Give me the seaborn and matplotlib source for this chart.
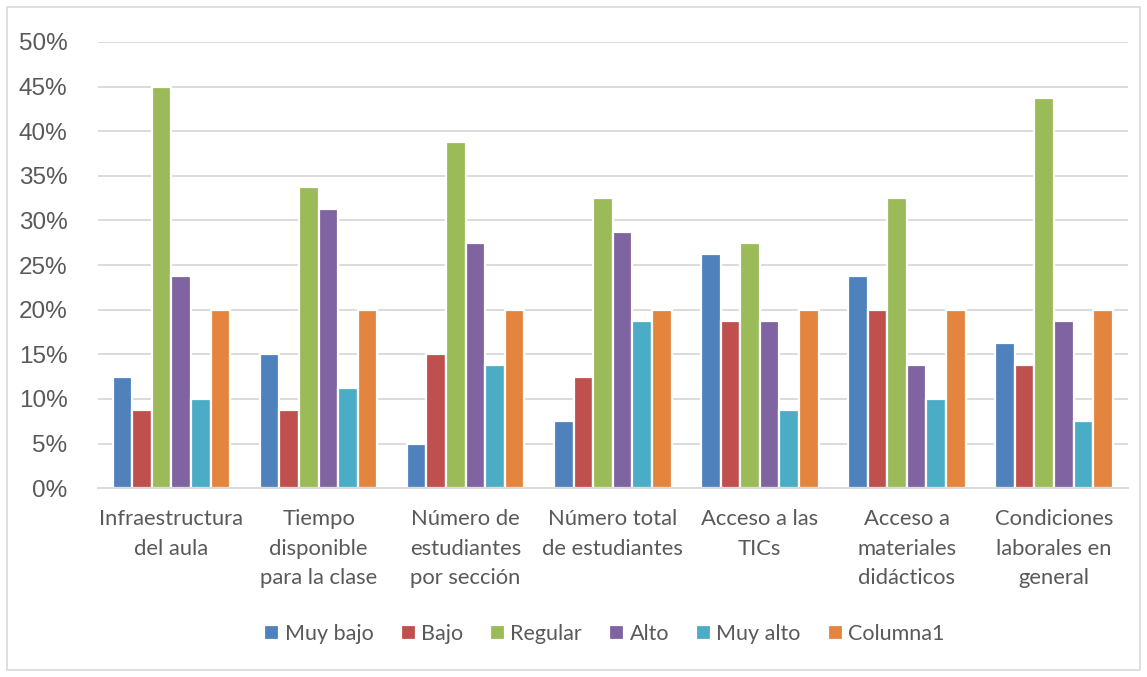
import matplotlib.pyplot as plt
import matplotlib.patches as mpatches
import seaborn as sns
import pandas as pd

# categorias (eje x) y series
categorias = ["Infraestructura\ndel aula", "Tiempo\ndisponible\npara la clase",
              "Número de\nestudiantes\npor sección", "Número total\nde estudiantes",
              "Acceso a las\nTICs", "Acceso a\nmateriales\ndidácticos",
              "Condiciones\nlaborales en\ngeneral"]
series = ["Muy bajo", "Bajo", "Regular", "Alto", "Muy alto", "Columna1"]

muy_bajo = [12.5, 15.0, 5.0, 7.5, 26.25, 23.75, 16.25]
bajo = [8.75, 8.75, 15.0, 12.5, 18.75, 20.0, 13.75]
regular = [45.0, 33.75, 38.75, 32.5, 27.5, 32.5, 43.75]
alto = [23.75, 31.25, 27.5, 28.75, 18.75, 13.75, 18.75]
muy_alto = [10.0, 11.25, 13.75, 18.75, 8.75, 10.0, 7.5]
columna1 = [20.0, 20.0, 20.0, 20.0, 20.0, 20.0, 20.0]

colores = ["#4F81BD", "#C0504D", "#9BBB59", "#8064A2", "#4BACC6", "#E3853E"]

valores = [muy_bajo, bajo, regular, alto, muy_alto, columna1]
filas = []
for s, vals in zip(series, valores):
    for c, v in zip(categorias, vals):
        filas.append({"categoria": c, "serie": s, "valor": v})
df = pd.DataFrame(filas)

sns.set_style("white")
plt.rcParams['font.family'] = ['Lato', 'DejaVu Sans']

fig = plt.figure(figsize=(11.47, 6.77), dpi=100)
ax = fig.add_axes([0.0854, 0.279, 0.8976, 0.659])

sns.barplot(data=df, x="categoria", y="valor", hue="serie", order=categorias,
            hue_order=series, palette=colores, width=0.8, edgecolor="white",
            linewidth=1.6, saturation=1, ax=ax, legend=True)

ax.set_ylim(0, 50)
ax.set_yticks(range(0, 51, 5))
ax.set_yticklabels([f"{v}%" for v in range(0, 51, 5)], fontsize=17.5,
                   color="#595959", family=['Liberation Sans'])
ax.set_xlim(-0.5, len(categorias) - 0.5)
ax.set_xlabel("")
ax.set_ylabel("")
ax.tick_params(axis="x", labelsize=15.8, labelcolor="#595959", pad=15, length=0)
ax.tick_params(axis="y", pad=22, length=0)
for lab in ax.get_xticklabels():
    lab.set_linespacing(1.6)
ax.yaxis.grid(True, color="#D9D9D9", linewidth=1.3)
ax.set_axisbelow(True)
for side in ["left", "right", "top"]:
    ax.spines[side].set_visible(False)
ax.spines["bottom"].set_color("#D9D9D9")
ax.spines["bottom"].set_linewidth(1.3)

handles, labels = ax.get_legend_handles_labels()
ax.get_legend().remove()
fig.legend(handles, labels, loc="center", bbox_to_anchor=(0.527, 0.063), ncol=6,
           frameon=False, fontsize=15.5, handlelength=0.7, handleheight=0.7,
           handletextpad=0.25, columnspacing=1.25, labelcolor="#595959")

marco = mpatches.Rectangle((0.006, 0.01), 0.988, 0.98, transform=fig.transFigure,
                           fill=False, edgecolor="#D9D9D9", linewidth=1.2)
fig.patches.append(marco)

fig.savefig("out.png", dpi=100)
